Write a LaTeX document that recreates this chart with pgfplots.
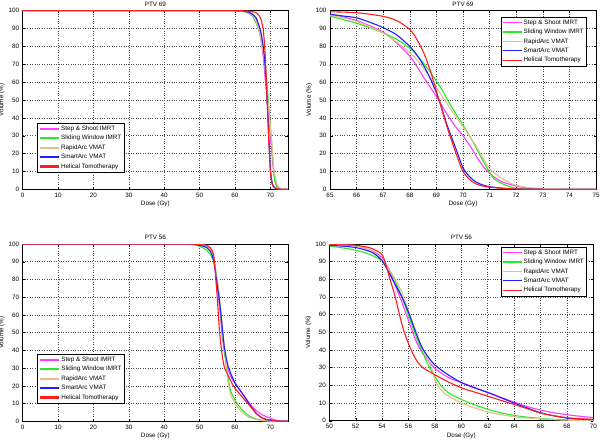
\documentclass[border=0pt]{standalone}
\usepackage{pgfplots}
\pgfplotsset{compat=1.18}
\usepackage{pgfplotstable}
\usepackage{fontspec}
\setmainfont{Liberation Sans}
\newcommand\fs{\fontsize{6.3}{7.5}\selectfont}

\definecolor{cSS}{RGB}{255,60,255}
\definecolor{cSW}{RGB}{40,235,40}
\definecolor{cRA}{RGB}{228,190,140}
\definecolor{cSA}{RGB}{30,30,255}
\definecolor{cHT}{RGB}{255,30,30}

% ---------- PTV 69 ----------
\pgfplotstableread{
x y
0 100
60 100
62 99.8
63 99.5
64 98.9
65 98
65.5 96.5
66 94.5
66.5 91.5
67 88
67.5 82
68 74.5
68.3 68
68.55 62
68.8 56.5
69 52
69.2 47
69.4 42
69.7 35.5
70 30
70.3 23.5
70.5 18.5
70.75 13
71 9
71.25 6
71.5 4
71.75 2.8
72 1.8
72.5 0.6
73 0.2
74 0.05
75 0
}\ssA
\pgfplotstableread{
x y
0 100
60 100
62 99.7
63 99.2
64 98.3
65 97
65.5 95
66 93
66.5 90.5
67 87.5
67.5 84
68 79
68.3 74.5
68.55 70
68.8 65
69 60.5
69.2 56
69.4 50.5
69.7 43
70 36
70.3 28.5
70.5 23
70.75 16
71 9.5
71.15 6
71.3 4.5
71.5 3
71.75 1.5
72 0.5
72.5 0.1
73 0
75 0
}\swA
\pgfplotstableread{
x y
0 100
60 100
62 99.8
63 99.4
64 98.7
65 97.5
65.5 96
66 94
66.5 91
67 87.5
67.5 82.5
68 76.5
68.3 72
68.55 67
68.8 62
69 57
69.2 52.5
69.4 48
69.7 41.5
70 35
70.3 28.5
70.5 24
70.75 17.5
71 11.5
71.25 8.3
71.5 5.7
71.75 3.7
72 2.2
72.5 0.9
73 0.4
74 0.1
75 0
}\raA
\pgfplotstableread{
x y
0 100
60 100
62 99.9
63 99.6
64 99.1
65 98
65.5 97
66 96
66.5 93.5
67 90.5
67.5 86.5
68 80
68.3 74.5
68.55 68.5
68.8 61
69 54
69.2 45.5
69.4 36
69.6 28
69.8 20
70 12
70.25 7
70.5 4
70.75 2.4
71 1.5
71.5 0.6
72 0.1
73 0
75 0
}\saA
\pgfplotstableread{
x y
0 100
62 100
63 99.9
64 99.7
65 99.4
65.5 99.2
66 98.9
66.5 98
67 96.8
67.5 94.5
68 89.5
68.3 83
68.55 75.5
68.8 65
69 55
69.2 45
69.4 35
69.6 26
69.8 17.5
70 10
70.25 5.5
70.5 3
70.75 1.8
71 1.2
71.5 0.5
72 0.2
73 0
75 0
}\htA

% ---------- PTV 56 ----------
\pgfplotstableread{
x y
0 100
45 100
48 99.95
49 99.9
50 99.8
51 99.5
52 99
53 97
53.5 95
54 92.3
54.5 85.8
55 76.4
55.5 67
56 56.7
56.5 46.4
57 39
57.5 34
58 29.6
59 24.5
60 21.6
61 18.8
62 16
63 13.2
64 10.5
65 8
66 6
67 4.5
68 3.4
69 2.5
70 1.8
71 1.0
72 0.5
73 0.2
75 0
}\ssB
\pgfplotstableread{
x y
0 100
44 100
47 99.8
48 99.6
49 99.3
50 98.8
51 97.8
52 96.5
53 94.3
54 90.5
54.5 86
55 79
55.5 70
56 59.6
56.5 49
57 40
57.5 31.5
58 25
58.5 19.5
59 16
60 12
61 9
62 6.5
63 4.5
64 3
65 2
66 1.3
67 0.8
68 0.5
69 0.3
70 0.2
72 0
75 0
}\swB
\pgfplotstableread{
x y
0 100
45 100
48 99.9
49 99.8
50 99.5
51 99.3
52 99
53 97
54 91.4
54.5 86
55 80
55.5 72.7
56 62
56.5 52
57 42
57.5 34
57.8 29
58 23
58.35 18.6
58.7 15.5
59 14
60 10
61 7.3
62 5
63 3.5
64 2.2
65 1.5
66 1
67 0.6
68 0.3
70 0.1
72 0
75 0
}\raB
\pgfplotstableread{
x y
0 100
45 100
48 99.9
49 99.7
50 99.2
51 98.8
52 98
53 96
53.5 94
54 90.5
54.5 84
55 77
55.5 70
56 61.4
56.5 51
57 41.8
57.5 36
58 31.5
59 26
60 21.6
61 18.6
62 16
63 13
64 10
65 7.2
66 4.5
67 2.8
68 1.5
69 0.9
70 0.6
71 0.3
72 0.1
75 0
}\saB
\pgfplotstableread{
x y
0 100
48 100
50 99.6
51 99.5
52 99.3
53 98
53.5 96.5
54 94
54.3 88
54.6 80
55 70
55.3 60.5
55.6 52
56 43.6
56.5 35.5
57 30.5
58 26
59 22
60 18.6
61 16.2
62 13.9
63 11.5
64 9.2
65 6.8
66 4.3
67 2.8
68 1.7
69 1.1
70 0.8
71 0.4
72 0.1
75 0
}\htB

\pgfplotsset{
  dvh/.style={
    scale only axis,
    ymin=0, ymax=100, ytick={0,10,...,100},
    grid=major,
    major grid style={black!70, dotted, line width=0.5pt},
    axis line style={black, line width=0.5pt},
    tick style={black, line width=0.4pt},
    major tick length=2.5pt,
    tick align=inside,
    ticklabel style={font=\fs, text=black},
    /pgf/number format/assume math mode=true,
    xlabel={Dose (Gy)}, ylabel={Volume (\%)},
    label style={font=\fs},
    xlabel style={yshift=3pt},
    ylabel shift={-3pt},
    title style={font=\fs, yshift=-5.5pt},
    legend cell align=left,
    legend style={font=\fs, fill=white,
      inner xsep=1.5pt, inner ysep=1pt,
      nodes={inner xsep=1.2pt, inner ysep=1.6pt, text height=4.8pt, text depth=1.4pt}},
    every axis plot/.append style={line width=1.1pt},
  },
  legthick/.style={legend image code/.code={\draw[##1, line width=2.2pt] (0pt,0pt) -- (19pt,0pt);}},
  legthin/.style={legend image code/.code={\draw[##1, line width=1.2pt] (0pt,0pt) -- (19pt,0pt);}},
}

\begin{document}
\begin{tikzpicture}
\path[use as bounding box] (0,0) rectangle (600pt,440pt);

% ---- Panel 1 ----
\begin{axis}[dvh, legthick, at={(22.7pt,250.7pt)}, anchor=south west,
  width=265.3pt, height=178.6pt,
  xmin=0, xmax=75, xtick={0,10,...,70},
  title={PTV 69},
  legend style={at={(0.054,0.095)}, anchor=south west}]
\addplot[cSS] table {\ssA}; \addlegendentry{Step \& Shoot IMRT}
\addplot[cSW] table {\swA}; \addlegendentry{Sliding Window IMRT}
\addplot[cRA] table {\raA}; \addlegendentry{RapidArc VMAT}
\addplot[cSA] table {\saA}; \addlegendentry{SmartArc VMAT}
\addplot[cHT] table {\htA}; \addlegendentry{Helical Tomotherapy}
\end{axis}

% ---- Panel 2 ----
\begin{axis}[dvh, legthin, at={(330pt,250.7pt)}, anchor=south west,
  width=266pt, height=178.6pt,
  xmin=65, xmax=75, xtick={65,66,...,75},
  title={PTV 69},
  legend style={at={(0.965,0.966)}, anchor=north east}]
\addplot[cSS, smooth, restrict x to domain=65:75] table {\ssA}; \addlegendentry{Step \& Shoot IMRT}
\addplot[cSW, smooth, restrict x to domain=65:75] table {\swA}; \addlegendentry{Sliding Window IMRT}
\addplot[cRA, smooth, restrict x to domain=65:75] table {\raA}; \addlegendentry{RapidArc VMAT}
\addplot[cSA, smooth, restrict x to domain=65:75] table {\saA}; \addlegendentry{SmartArc VMAT}
\addplot[cHT, smooth, restrict x to domain=65:75] table {\htA}; \addlegendentry{Helical Tomotherapy}
\end{axis}

% ---- Panel 3 ----
\begin{axis}[dvh, legthick, at={(22.7pt,18.7pt)}, anchor=south west,
  width=265.3pt, height=177.3pt,
  xmin=0, xmax=75, xtick={0,10,...,70},
  title={PTV 56},
  legend style={at={(0.055,0.1015)}, anchor=south west}]
\addplot[cSS] table {\ssB}; \addlegendentry{Step \& Shoot IMRT}
\addplot[cSW] table {\swB}; \addlegendentry{Sliding Window IMRT}
\addplot[cRA] table {\raB}; \addlegendentry{RapidArc VMAT}
\addplot[cSA] table {\saB}; \addlegendentry{SmartArc VMAT}
\addplot[cHT] table {\htB}; \addlegendentry{Helical Tomotherapy}
\end{axis}

% ---- Panel 4 ----
\begin{axis}[dvh, legthin, at={(329.3pt,19.3pt)}, anchor=south west,
  width=264pt, height=176.7pt,
  xmin=50, xmax=70, xtick={50,52,...,70},
  title={PTV 56},
  legend style={at={(0.975,0.985)}, anchor=north east}]
\addplot[cSS, smooth, restrict x to domain=50:70] table {\ssB}; \addlegendentry{Step \& Shoot IMRT}
\addplot[cSW, smooth, restrict x to domain=50:70] table {\swB}; \addlegendentry{Sliding Window IMRT}
\addplot[cRA, smooth, restrict x to domain=50:70] table {\raB}; \addlegendentry{RapidArc VMAT}
\addplot[cSA, smooth, restrict x to domain=50:70] table {\saB}; \addlegendentry{SmartArc VMAT}
\addplot[cHT, smooth, restrict x to domain=50:70] table {\htB}; \addlegendentry{Helical Tomotherapy}
\end{axis}
\end{tikzpicture}
\end{document}
